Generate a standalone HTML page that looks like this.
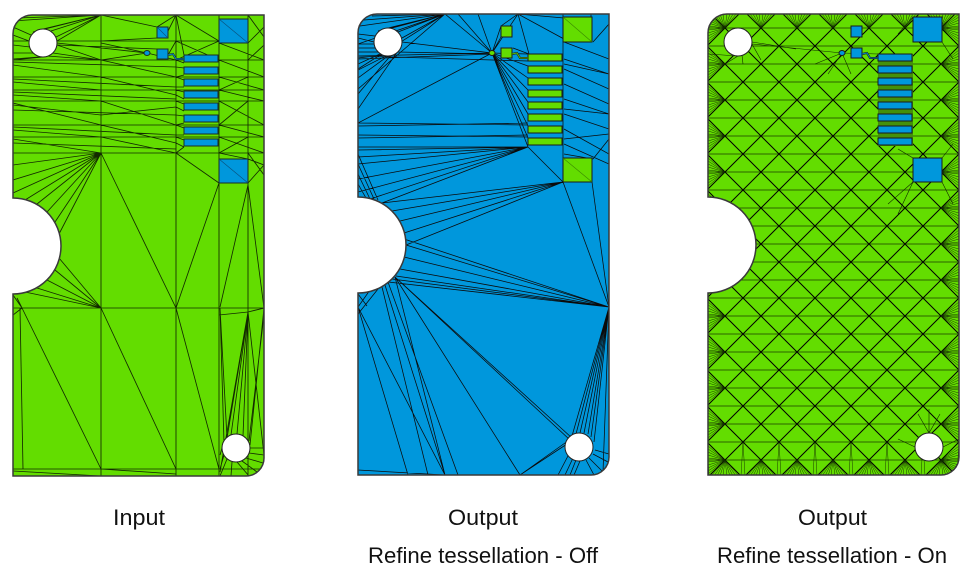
<!DOCTYPE html>
<html>
<head>
<meta charset="utf-8">
<style>
  html,body{margin:0;padding:0;background:#fff;}
  body{width:976px;height:572px;overflow:hidden;}
  svg{display:block;}
  text{font-family:"Liberation Sans",Arial,sans-serif;fill:#111;}
</style>
</head>
<body>
<svg width="976" height="572" viewBox="0 0 976 572" xmlns="http://www.w3.org/2000/svg">
<defs>
  <clipPath id="c">
    <path d="M0,19A19,19 0 0 1 19,0H251V443A18,18 0 0 1 233,461H0V279A48,48 0 0 0 0,183Z"/>
  </clipPath>
  <pattern id="lat" patternUnits="userSpaceOnUse" x="35" y="32" width="36" height="36">
    <path d="M0,0H36M0,18H36M0,36H36" stroke="#2c6400" stroke-width="1" fill="none"/>
    <path d="M-1,-1L37,37M37,-1L-1,37" stroke="#000" stroke-width="1" fill="none"/>
  </pattern>
  <pattern id="fb" patternUnits="userSpaceOnUse" x="-1" y="426" width="36" height="36">
    <path d="M18,20L4,36M18,20L7,36M18,20L10,36M18,20L13,36M18,20L16,36M18,20L20,36M18,20L23,36M18,20L26,36M18,20L29,36M18,20L32,36M0,2L-2,36M0,2L2,36M36,2L34,36M36,2L38,36" stroke="#0f2600" stroke-width="0.45" fill="none"/>
  </pattern>
  <pattern id="fl" patternUnits="userSpaceOnUse" x="0" y="-4" width="18" height="36">
    <path d="M17,18L0,4M17,18L0,7M17,18L0,10M17,18L0,13M17,18L0,16M17,18L0,20M17,18L0,23M17,18L0,26M17,18L0,29M17,18L0,32" stroke="#0f2600" stroke-width="0.45" fill="none"/>
  </pattern>
  <pattern id="fr" patternUnits="userSpaceOnUse" x="233" y="-4" width="18" height="36">
    <path d="M0,18L18,4M0,18L18,7M0,18L18,10M0,18L18,13M0,18L18,16M0,18L18,20M0,18L18,23M0,18L18,26M0,18L18,29M0,18L18,32" stroke="#0f2600" stroke-width="0.45" fill="none"/>
  </pattern>
  <pattern id="ft" patternUnits="userSpaceOnUse" x="-1" y="0" width="36" height="14">
    <path d="M18,14L4,0M18,14L7,0M18,14L10,0M18,14L13,0M18,14L16,0M18,14L20,0M18,14L23,0M18,14L26,0M18,14L29,0M18,14L32,0" stroke="#0f2600" stroke-width="0.45" fill="none"/>
  </pattern>
</defs>

<!-- ================= PANEL 1 : Input ================= -->
<g transform="translate(13,15)">
  <path d="M0,19A19,19 0 0 1 19,0H251V443A18,18 0 0 1 233,461H0V279A48,48 0 0 0 0,183Z" fill="#63dd00"/>
  <path clip-path="url(#c)" fill="none" stroke="#132a00" stroke-width="0.85" d="
  M88,0V461 M163,0V461 M206,0V461 M235,0V461
  M0,26H206 M0,45H251 M0,62H251 M0,75H251 M0,86H251 M0,110H251 M0,122H251 M0,138H251 M0,293H251 M0,454H251
  M0,6L88,0 M4,3L88,0 M88,0L30,14 M88,0L38,16 M88,0L43,22 M88,0L44,26 M88,0L20,17 M0,12L18,20 M0,20L16,26 M0,30L17,32 M0,38L20,38 M0,44L26,42 M88,45L40,38 M88,45L34,41 M88,45L44,30 M0,45L30,42
  M88,0L144,12 M163,0L144,12 M163,0L155,16 M163,0L171,40 M163,0L206,26 M88,26L144,23 M88,28L134,38 M44,28L134,38 M44,30L144,34 M88,45L134,38 M134,38L163,45 M155,40L163,26 M163,26L206,45 M163,45L206,26
  M235,0L251,22 M235,28L251,12 M206,28L251,45 M235,45L251,30 M206,45L251,62 M235,62L206,75 M206,62L251,75 M206,75L251,86 M235,86L206,110 M206,86L251,110 M206,110L251,122 M235,122L206,138 M206,122L251,138 M235,138L251,160 M206,138L235,144 M235,168L251,150 M251,150L235,144
  M0,47L163,52 M0,50L88,62 M88,45L163,62 M0,64L163,72 M0,67L88,75 M88,62L163,80 M0,77L163,84 M0,80L88,86 M0,88L88,110 M88,86L163,110 M0,95L163,100 M0,112L163,120 M0,115L88,122 M88,110L163,128 M0,124L88,138 M88,122L163,138 M0,128L163,134 M0,90L88,100 M88,100L163,92
  M163,45L171,48 M163,52L171,53 M163,62L171,60 M163,62L171,65 M163,72L171,72 M163,75L171,77 M163,80L171,84 M163,86L171,89 M163,92L171,96 M163,100L171,101 M163,110L171,108 M163,110L171,113 M163,120L171,120 M163,122L171,125 M163,128L171,132 M163,138L171,132
  M88,138L0,150 M88,138L0,165 M88,138L0,178 M88,138L12,185 M88,138L24,189 M88,138L34,197 M88,138L42,207 M88,138L46,219 M88,138L163,293 M163,138L206,168 M163,293L206,168
  M88,293L46,243 M88,293L42,255 M88,293L34,265 M88,293L24,273 M88,293L12,277 M88,293L9,293 M9,293L0,280 M9,293L4,283 M88,293L163,454 M9,293L88,454 M163,293L206,454 M7,293L10,454 M0,456L88,461 M88,454L163,459 M0,300L9,293
  M235,170L207,292 M235,170L251,293 M235,297L207,457 M235,297L214,423 M235,297L218,420 M235,297L224,419 M235,297L230,421 M207,293L214,423 M207,293L211,428 M251,293L237,430 M235,297L251,440 M251,293L235,297 M206,300L235,297 M251,300L236,426
  M251,433L237,433 M251,440L236,438 M250,448L233,443 M244,457L229,446 M236,461L224,447 M218,461L219,447 M207,461L214,444 M207,454L211,440 M207,440L209,433"/>
  <g fill="#0097dc" stroke="#1c2e22" stroke-width="1">
    <rect x="206" y="4" width="29" height="24"/>
    <rect x="206" y="144" width="29" height="24"/>
    <rect x="144" y="12" width="11" height="11"/>
    <rect x="144" y="34" width="11" height="10"/>
    <rect x="171" y="40" width="34" height="7"/>
    <rect x="171" y="52" width="34" height="7"/>
    <rect x="171" y="64" width="34" height="7"/>
    <rect x="171" y="76" width="34" height="7"/>
    <rect x="171" y="88" width="34" height="7"/>
    <rect x="171" y="100" width="34" height="7"/>
    <rect x="171" y="112" width="34" height="7"/>
    <rect x="171" y="124" width="34" height="7"/>
    <ellipse cx="134" cy="38" rx="3" ry="2.5"/>
  </g>
  <path d="M206,4L235,28M206,144L235,168M144,12L155,23" stroke="#0b4f7a" stroke-width="0.6" fill="none"/>
  <path d="M155,40L160,39L163,44L171,44" stroke="#1c2e22" stroke-width="2" fill="none"/>
  <path d="M155,40L160,39L163,44L171,44" stroke="#0097dc" stroke-width="0.8" fill="none"/>
  <circle cx="30" cy="28" r="14" fill="#fff" stroke="#222" stroke-width="1"/>
  <circle cx="223" cy="433" r="14" fill="#fff" stroke="#222" stroke-width="1"/>
  <path d="M0,19A19,19 0 0 1 19,0H251V443A18,18 0 0 1 233,461H0V279A48,48 0 0 0 0,183Z" fill="none" stroke="#3a3a3a" stroke-width="1.5"/>
</g>

<!-- ================= PANEL 2 : Output Off ================= -->
<g transform="translate(358,14)">
  <path d="M0,19A19,19 0 0 1 19,0H251V443A18,18 0 0 1 233,461H0V279A48,48 0 0 0 0,183Z" fill="#0097dc"/>
  <path clip-path="url(#c)" fill="none" stroke="#0a0a0a" stroke-width="0.75" d="
  M87,0L2,12 M87,0L6,6 M87,0L14,2 M87,0L20,17 M87,0L26,15 M87,0L34,14 M87,0L40,18 M87,0L44,24 M87,0L0,30 M87,0L0,55 M87,0L0,75
  M0,20L17,22 M0,24L16,28 M0,30L16,30 M0,34L17,34 M0,38L20,38 M0,44L24,41 M0,50L22,40 M0,56L28,42 M0,64L30,42 M0,80L34,40 M0,95L40,37
  M0,42L134,39 M0,45L134,40 M44,28L134,39 M40,38L134,40 M0,109L134,39 M0,42L170,47
  M134,39L170,40 M134,39L170,52 M134,39L170,64 M134,39L170,76 M134,39L170,88 M134,39L170,100 M134,39L170,112 M134,39L170,124 M134,39L170,133 M134,39L87,0 M134,39L143,12 M134,39L160,0 M134,39L143,23 M134,39L100,0 M134,39L120,0
  M160,0L143,12 M160,0L206,25 M160,0L206,4 M160,0L171,40 M155,34L171,40 M205,0V144 M233,0V4
  M206,28L251,45 M235,28L251,10 M206,45L251,60 M206,55L251,75 M206,70L251,90 M206,85L251,100 M206,100L251,115 M206,115L251,140 M206,130L251,150 M235,145L251,125 M206,140L235,145 M251,60L206,50 M251,100L206,95 M251,120L206,125
  M0,109L170,111 M0,112L170,109 M0,121L170,123 M0,124L170,121 M0,133L170,133 M0,136L170,133
  M170,133L0,150 M170,133L0,165 M170,133L0,178 M170,133L12,185 M170,133L24,189 M170,133L0,143
  M205,168L34,197 M205,168L42,207 M205,168L46,219 M205,168L48,231 M205,168L24,189 M205,168L170,133
  M0,140L20,186 M0,150L16,185 M0,160L12,185 M0,170L8,184
  M48,231L251,293 M46,243L251,293 M42,255L251,293 M38,262L251,293 M34,265L251,293 M30,268L251,293 M205,168L251,293 M234,168L251,293 M46,225L251,293
  M37,263L87,461 M37,263L162,461 M37,263L214,424 M37,263L212,426 M27,271L87,461 M24,273L70,461 M0,293L87,461 M0,280L9,292 M0,293L12,276 M0,300L20,275 M0,293L50,461 M30,268L100,461
  M251,293L214,422 M251,293L218,420 M251,293L222,419 M251,293L226,419 M251,293L230,420 M251,293L233,423 M251,293L236,428 M251,293L245,458 M162,461L212,428 M162,461L214,424 M251,293L251,461
  M207,461L215,444 M212,461L218,446 M216,461L222,447 M236,461L228,446 M244,457L231,444 M250,448L235,440 M251,440L237,436 M200,461L211,440
  M0,456L87,461"/>
  <g fill="#63dd00" stroke="#1a1a1a" stroke-width="1">
    <rect x="205" y="3" width="29" height="25"/>
    <rect x="205" y="144" width="29" height="24"/>
    <rect x="143" y="12" width="11" height="11"/>
    <rect x="143" y="34" width="11" height="10"/>
    <rect x="170" y="40" width="34" height="7"/>
    <rect x="170" y="52" width="34" height="7"/>
    <rect x="170" y="64" width="34" height="7"/>
    <rect x="170" y="76" width="34" height="7"/>
    <rect x="170" y="88" width="34" height="7"/>
    <rect x="170" y="100" width="34" height="7"/>
    <rect x="170" y="112" width="34" height="7"/>
    <rect x="170" y="124" width="34" height="7"/>
    <ellipse cx="134" cy="39" rx="3" ry="2.5"/>
  </g>
  <path d="M205,3L234,28M205,144L234,168" stroke="#3a8a00" stroke-width="0.6" fill="none"/>
  <path d="M154,40L159,39L162,44L170,44" stroke="#1a1a1a" stroke-width="2" fill="none"/>
  <path d="M154,40L159,39L162,44L170,44" stroke="#63dd00" stroke-width="0.8" fill="none"/>
  <circle cx="30" cy="28" r="14" fill="#fff" stroke="#222" stroke-width="1"/>
  <circle cx="221" cy="433" r="14" fill="#fff" stroke="#222" stroke-width="1"/>
  <path d="M0,19A19,19 0 0 1 19,0H251V443A18,18 0 0 1 233,461H0V279A48,48 0 0 0 0,183Z" fill="none" stroke="#3a3a3a" stroke-width="1.5"/>
</g>

<!-- ================= PANEL 3 : Output On ================= -->
<g transform="translate(708,14)">
  <path d="M0,19A19,19 0 0 1 19,0H251V443A18,18 0 0 1 233,461H0V279A48,48 0 0 0 0,183Z" fill="#63dd00"/>
  <g clip-path="url(#c)">
    <rect x="0" y="0" width="251" height="461" fill="url(#lat)"/>
    <rect x="0" y="426" width="251" height="36" fill="url(#fb)"/>
    <rect x="0" y="0" width="17" height="461" fill="url(#fl)"/>
    <rect x="233" y="0" width="18" height="461" fill="url(#fr)"/>
    <rect x="0" y="0" width="251" height="14" fill="url(#ft)"/>
    <rect x="170" y="40" width="35" height="92" fill="#44900a"/>
    <path fill="none" stroke="#0f2600" stroke-width="0.6" d="
    M44,28L88,35 M44,30L134,39 M0,40L30,42 M17,50L30,42 M35,50L34,41 M53,46L44,30 M134,39L120,60 M134,39L107,50 M134,39L143,60 M134,39L170,40
    M205,168L180,190 M205,168L190,200 M234,168L245,190 M205,144L190,135 M234,144L245,130 M205,3L190,20 M234,28L245,45
    M221,419L210,400 M221,419L232,400 M221,419L221,395 M207,433L190,425 M235,433L251,425"/>
  </g>
  <g fill="#0097dc" stroke="#1a1a1a" stroke-width="1">
    <rect x="205" y="3" width="29" height="25"/>
    <rect x="205" y="144" width="29" height="24"/>
    <rect x="143" y="12" width="11" height="11"/>
    <rect x="143" y="34" width="11" height="10"/>
    <rect x="170" y="40" width="34" height="7"/>
    <rect x="170" y="52" width="34" height="7"/>
    <rect x="170" y="64" width="34" height="7"/>
    <rect x="170" y="76" width="34" height="7"/>
    <rect x="170" y="88" width="34" height="7"/>
    <rect x="170" y="100" width="34" height="7"/>
    <rect x="170" y="112" width="34" height="7"/>
    <rect x="170" y="124" width="34" height="7"/>
    <ellipse cx="134" cy="39" rx="3" ry="2.5"/>
  </g>
  <path d="M154,40L159,39L162,44L170,44" stroke="#1a1a1a" stroke-width="2" fill="none"/>
  <path d="M154,40L159,39L162,44L170,44" stroke="#0097dc" stroke-width="0.8" fill="none"/>
  <circle cx="30" cy="28" r="14" fill="#fff" stroke="#222" stroke-width="1"/>
  <circle cx="221" cy="433" r="14" fill="#fff" stroke="#222" stroke-width="1"/>
  <path d="M0,19A19,19 0 0 1 19,0H251V443A18,18 0 0 1 233,461H0V279A48,48 0 0 0 0,183Z" fill="none" stroke="#3a3a3a" stroke-width="1.5"/>
</g>

<!-- ================= LABELS ================= -->
<text x="113" y="525" font-size="22" textLength="52" lengthAdjust="spacingAndGlyphs">Input</text>
<text x="448" y="525" font-size="22" textLength="70" lengthAdjust="spacingAndGlyphs">Output</text>
<text x="368" y="563" font-size="22" textLength="230" lengthAdjust="spacingAndGlyphs">Refine tessellation - Off</text>
<text x="798" y="525" font-size="22" textLength="69" lengthAdjust="spacingAndGlyphs">Output</text>
<text x="717" y="563" font-size="22" textLength="230" lengthAdjust="spacingAndGlyphs">Refine tessellation - On</text>
</svg>
</body>
</html>
